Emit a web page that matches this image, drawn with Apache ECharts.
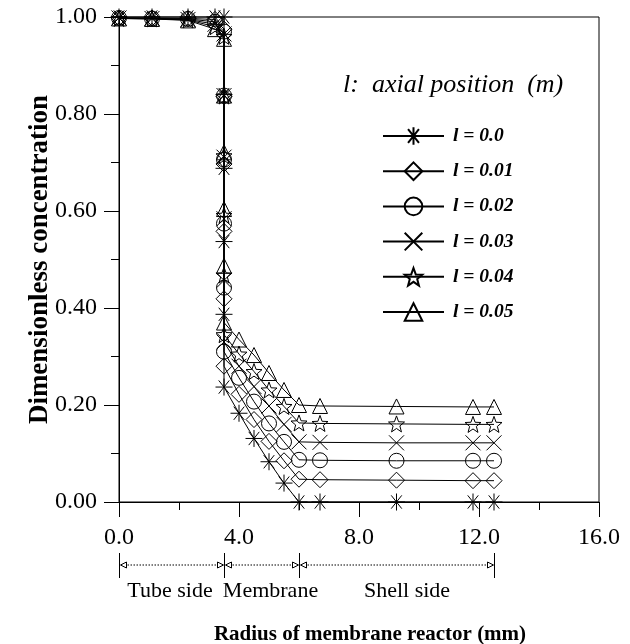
<!DOCTYPE html>
<html>
<head>
<meta charset="utf-8">
<script src="https://cdn.jsdelivr.net/npm/echarts@6/dist/echarts.min.js"></script>
<style>
  html, body { margin: 0; padding: 0; background: #fff; }
  #chart { width: 630px; height: 644px; }
</style>
</head>
<body>
<div id="chart"></div>
<script>
// Radial positions (mm): tube side, the thin layer at r = 3.5, membrane, shell side
const radius = [0, 1.1, 2.3, 3.2, 3.5, 3.5, 3.5, 3.5, 3.5, 3.5, 4.0, 4.5, 5.0, 5.5, 6.0, 6.7, 9.25, 11.8, 12.5];

// Dimensionless concentration at each axial position l (m)
const seriesNames = ['l = 0.0', 'l = 0.01', 'l = 0.02', 'l = 0.03', 'l = 0.04', 'l = 0.05'];
const concL000 = [1.0, 1.0, 1.0, 1.0, 1.0, 0.84, 0.688, 0.537, 0.387, 0.237, 0.183, 0.131, 0.083, 0.039, 0.0, 0.0, 0.0, 0.0, 0.0];
const concL001 = [0.998, 0.998, 0.997, 0.995, 0.975, 0.836, 0.697, 0.558, 0.419, 0.28, 0.222, 0.17, 0.125, 0.085, 0.047, 0.046, 0.045, 0.044, 0.044];
const concL002 = [0.998, 0.997, 0.996, 0.99, 0.97, 0.838, 0.706, 0.574, 0.442, 0.31, 0.256, 0.207, 0.162, 0.124, 0.087, 0.086, 0.085, 0.085, 0.085];
const concL003 = [0.998, 0.997, 0.995, 0.985, 0.965, 0.838, 0.711, 0.584, 0.457, 0.33, 0.28, 0.238, 0.198, 0.16, 0.124, 0.123, 0.122, 0.122, 0.122];
const concL004 = [0.997, 0.996, 0.994, 0.98, 0.96, 0.837, 0.714, 0.591, 0.468, 0.345, 0.305, 0.269, 0.231, 0.197, 0.163, 0.162, 0.161, 0.16, 0.16];
const concL005 = [0.997, 0.996, 0.993, 0.975, 0.955, 0.838, 0.721, 0.604, 0.487, 0.37, 0.335, 0.303, 0.266, 0.231, 0.2, 0.198, 0.197, 0.196, 0.196];
const concentrations = [concL000, concL001, concL002, concL003, concL004, concL005];

// Region boundaries (mm) and their names
const zoneEdges = [0, 3.5, 6.0, 12.5];
const zoneNames = ['Tube side', 'Membrane', 'Shell side'];

// Axis ranges
const xMin = 0, xMax = 16, xStep = 4;
const yMin = 0, yMax = 1, yStep = 0.2;

const SERIF = "'Liberation Serif', 'DejaVu Serif', serif";

// Marker shapes
function starPath() {
  const pts = [];
  for (let i = 0; i < 10; i++) {
    const r = i % 2 === 0 ? 1 : 0.42;
    const a = -Math.PI / 2 + i * Math.PI / 5;
    pts.push((r * Math.cos(a)).toFixed(4) + ' ' + (r * Math.sin(a)).toFixed(4));
  }
  return 'path://M' + pts.join('L') + 'Z';
}
const asteriskPath = 'path://M0 -1L0 1M-1 0L1 0M-0.62 -0.78L0.62 0.78M0.62 -0.78L-0.62 0.78';
const crossPath = 'path://M-1 -1L1 1M1 -1L-1 1';
const markers = [asteriskPath, 'diamond', 'circle', crossPath, starPath(), 'triangle'];
const markerSizes = [17, 16, 15, 15, 16, 15];

const chart = echarts.init(document.getElementById('chart'), null, { renderer: 'canvas' });

const series = seriesNames.map((name, i) => ({
  name: name,
  type: 'line',
  data: radius.map((r, k) => [r, concentrations[i][k]]),
  symbol: markers[i],
  symbolSize: markerSizes[i],
  showAllSymbol: true,
  clip: false,
  lineStyle: { color: '#000', width: 1 },
  itemStyle: { color: 'rgba(0,0,0,0)', borderColor: '#000', borderWidth: 1 },
  emphasis: { disabled: true },
  z: 2 + i
}));

const option = {
  animation: false,
  backgroundColor: '#fff',
  grid: {
    left: 119, right: 31, top: 17, bottom: 142,
    containLabel: false, outerBoundsMode: 'none',
    show: true, borderColor: '#000', borderWidth: 1, backgroundColor: 'transparent'
  },
  xAxis: {
    type: 'value', min: xMin, max: xMax, interval: xStep,
    name: 'Radius of membrane reactor (mm)',
    nameLocation: 'middle', nameGap: 122, nameMoveOverlap: false,
    nameTextStyle: { fontFamily: SERIF, fontWeight: 'bold', fontSize: 21, color: '#000', padding: [0, 0, 0, 22] },
    axisLine: { lineStyle: { color: '#000', width: 1 } },
    axisTick: { show: true, length: 15, lineStyle: { color: '#000' } },
    minorTick: { show: true, splitNumber: 2, length: 8, lineStyle: { color: '#000' } },
    splitLine: { show: false },
    axisLabel: { fontFamily: SERIF, fontSize: 24, color: '#000', margin: 24, formatter: v => v.toFixed(1) }
  },
  yAxis: {
    type: 'value', min: yMin, max: yMax, interval: yStep,
    name: 'Dimensionless concentration',
    nameLocation: 'middle', nameGap: 65, nameMoveOverlap: false,
    nameTextStyle: { fontFamily: SERIF, fontWeight: 'bold', fontSize: 27, color: '#000' },
    axisLine: { lineStyle: { color: '#000', width: 1 } },
    axisTick: { show: true, length: 15, lineStyle: { color: '#000' } },
    minorTick: { show: true, splitNumber: 2, length: 8, lineStyle: { color: '#000' } },
    splitLine: { show: false },
    axisLabel: { fontFamily: SERIF, fontSize: 24, color: '#000', margin: 22, formatter: v => v.toFixed(2) }
  },
  legend: {
    orient: 'vertical',
    left: 377, top: 121,
    itemWidth: 61, itemHeight: 22, itemGap: 15.2,
    selectedMode: false,
    textStyle: { fontFamily: SERIF, fontStyle: 'italic', fontWeight: 'bold', fontSize: 19.5, color: '#000', padding: [0, 0, 0, 4] },
    data: seriesNames
  },
  series: series
};

chart.setOption(option);

// Legend heading and the region bar beneath the x axis
const px = v => chart.convertToPixel({ xAxisIndex: 0 }, v);
const barY = 565, barTop = 553, barBottom = 578, labelY = 591;
const zoneLabelAt = [1.7, 5.05, 9.6];
const g = [];

g.push({
  type: 'text', left: 343, top: 72,
  style: { text: 'l:  axial position  (m)', font: "italic 26px " + SERIF, fill: '#000' }
});

zoneEdges.forEach(e => {
  const x = Math.round(px(e)) + 0.5;
  g.push({ type: 'line', shape: { x1: x, y1: barTop, x2: x, y2: barBottom }, style: { stroke: '#000', lineWidth: 1 } });
});

for (let i = 0; i < zoneNames.length; i++) {
  const a = Math.round(px(zoneEdges[i])) + 0.5;
  const b = Math.round(px(zoneEdges[i + 1])) + 0.5;
  g.push({ type: 'line', shape: { x1: a + 2, y1: barY, x2: b - 2, y2: barY }, style: { stroke: '#000', lineWidth: 1, lineDash: [1.5, 1.5] } });
  g.push({ type: 'polygon', shape: { points: [[a + 1, barY], [a + 7, barY - 3], [a + 7, barY + 3]] }, style: { fill: '#fff', stroke: '#000', lineWidth: 1 } });
  g.push({ type: 'polygon', shape: { points: [[b - 1, barY], [b - 7, barY - 3], [b - 7, barY + 3]] }, style: { fill: '#fff', stroke: '#000', lineWidth: 1 } });
  g.push({
    type: 'text', x: px(zoneLabelAt[i]), y: labelY,
    style: { text: zoneNames[i], font: "22px " + SERIF, fill: '#000', align: 'center', verticalAlign: 'middle' }
  });
}

chart.setOption({ graphic: g });
</script>
</body>
</html>
